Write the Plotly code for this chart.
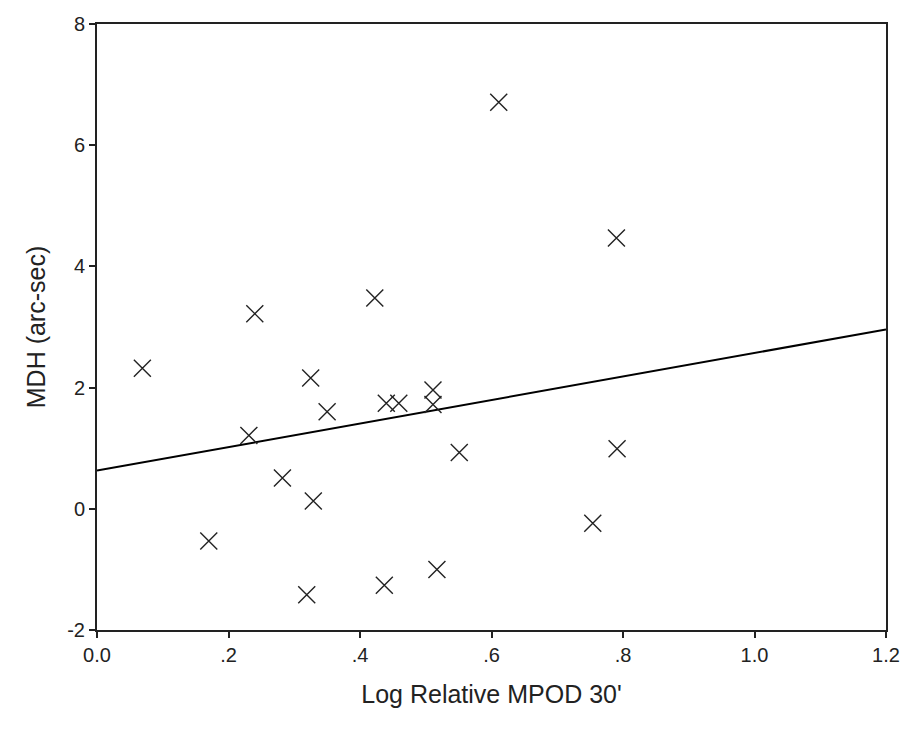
import plotly.graph_objects as go

# Data
log_mpod = [0.069, 0.240, 0.4225, 0.325, 0.350, 0.231, 0.282, 0.329, 0.170,
            0.319, 0.437, 0.611, 0.790, 0.440, 0.459, 0.511, 0.511,
            0.551, 0.791, 0.754, 0.517]
mdh = [2.32, 3.22, 3.48, 2.16, 1.60, 1.21, 0.51, 0.13, -0.53,
       -1.42, -1.26, 6.71, 4.47, 1.74, 1.74, 1.96, 1.72,
       0.93, 0.99, -0.24, -1.00]

# Regression line end points
fit_x = [0.0, 1.2]
fit_y = [0.63, 2.96]

x_ticks = [0.0, 0.2, 0.4, 0.6, 0.8, 1.0, 1.2]
x_ticktext = ["0.0", ".2", ".4", ".6", ".8", "1.0", "1.2"]
y_ticks = [-2, 0, 2, 4, 6, 8]
y_ticktext = ["-2", "0", "2", "4", "6", "8"]

fig = go.Figure()
fig.add_trace(go.Scatter(
    x=fit_x, y=fit_y, mode="lines",
    line=dict(color="black", width=2), showlegend=False, hoverinfo="skip"))
fig.add_trace(go.Scatter(
    x=log_mpod, y=mdh, mode="markers",
    marker=dict(symbol="x-thin-open", size=17,
                line=dict(color="#222222", width=1.4), color="#222222"),
    showlegend=False))

font_family = "Liberation Sans, Arial, sans-serif"
fig.update_layout(
    width=906, height=736,
    margin=dict(l=97, r=20, t=24, b=106, autoexpand=False),
    paper_bgcolor="white", plot_bgcolor="white",
    font=dict(family=font_family, color="#222222", size=20),
)
fig.update_xaxes(
    range=[0, 1.2], tickvals=x_ticks, ticktext=x_ticktext,
    showgrid=False, zeroline=False,
    showline=True, linecolor="#222222", linewidth=2, mirror=True,
    ticks="outside", ticklen=6, tickwidth=2, tickcolor="#222222",
    tickfont=dict(size=20), automargin=False,
    title=dict(text="Log Relative MPOD 30'", font=dict(size=25), standoff=20),
)
fig.update_yaxes(
    range=[-2, 8], tickvals=y_ticks, ticktext=y_ticktext,
    showgrid=False, zeroline=False,
    showline=True, linecolor="#222222", linewidth=2, mirror=True,
    ticks="outside", ticklen=6, tickwidth=2, tickcolor="#222222",
    tickfont=dict(size=20), automargin=False,
    title=dict(text="MDH (arc-sec)", font=dict(size=25), standoff=14),
)

fig.write_html("out.html")
